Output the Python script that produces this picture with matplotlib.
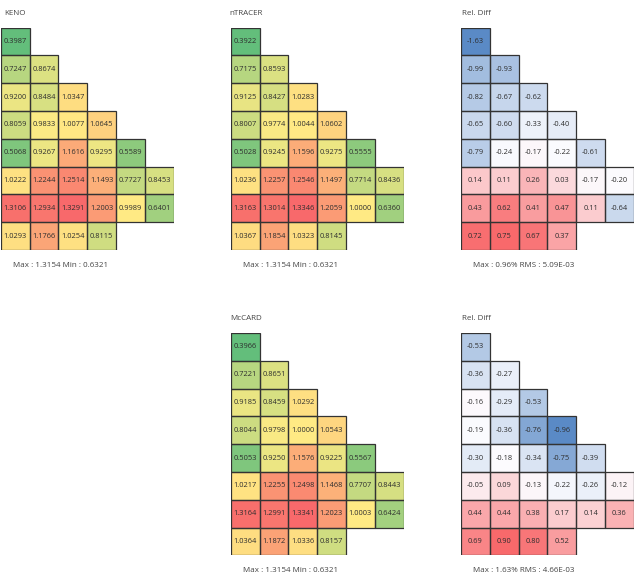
import numpy as np
import matplotlib.pyplot as plt
from matplotlib.colors import LinearSegmentedColormap, TwoSlopeNorm

plt.rcParams['font.family'] = ['Open Sans', 'DejaVu Sans']

# row-by-row values of the triangular core maps (rows of 1,2,3,4,5,6,6,4 cells)
keno = [[0.3987],
        [0.7247, 0.8674],
        [0.9200, 0.8484, 1.0347],
        [0.8059, 0.9833, 1.0077, 1.0645],
        [0.5068, 0.9267, 1.1616, 0.9295, 0.5589],
        [1.0222, 1.2244, 1.2514, 1.1493, 0.7727, 0.8453],
        [1.3106, 1.2934, 1.3291, 1.2003, 0.9989, 0.6401],
        [1.0293, 1.1766, 1.0254, 0.8115]]

ntracer = [[0.3922],
           [0.7175, 0.8593],
           [0.9125, 0.8427, 1.0283],
           [0.8007, 0.9774, 1.0044, 1.0602],
           [0.5028, 0.9245, 1.1596, 0.9275, 0.5555],
           [1.0236, 1.2257, 1.2546, 1.1497, 0.7714, 0.8436],
           [1.3163, 1.3014, 1.3346, 1.2059, 1.0000, 0.6360],
           [1.0367, 1.1854, 1.0323, 0.8145]]

reldiff_top = [[-1.63],
               [-0.99, -0.93],
               [-0.82, -0.67, -0.62],
               [-0.65, -0.60, -0.33, -0.40],
               [-0.79, -0.24, -0.17, -0.22, -0.61],
               [0.14, 0.11, 0.26, 0.03, -0.17, -0.20],
               [0.43, 0.62, 0.41, 0.47, 0.11, -0.64],
               [0.72, 0.75, 0.67, 0.37]]

mccard = [[0.3966],
          [0.7221, 0.8651],
          [0.9185, 0.8459, 1.0292],
          [0.8044, 0.9798, 1.0000, 1.0543],
          [0.5053, 0.9250, 1.1576, 0.9225, 0.5567],
          [1.0217, 1.2255, 1.2498, 1.1468, 0.7707, 0.8443],
          [1.3164, 1.2991, 1.3341, 1.2023, 1.0003, 0.6424],
          [1.0364, 1.1872, 1.0336, 0.8157]]

reldiff_bot = [[-0.53],
               [-0.36, -0.27],
               [-0.16, -0.29, -0.53],
               [-0.19, -0.36, -0.76, -0.96],
               [-0.30, -0.18, -0.34, -0.75, -0.39],
               [-0.05, 0.09, -0.13, -0.22, -0.26, -0.12],
               [0.44, 0.44, 0.38, 0.17, 0.14, 0.36],
               [0.69, 0.90, 0.80, 0.52]]

footer_power = 'Max : 1.3154 Min : 0.6321'
footer_top = 'Max : 0.96% RMS : 5.09E-03'
footer_bot = 'Max : 1.63% RMS : 4.66E-03'

# Excel-like 3 colour scales
gyr = LinearSegmentedColormap.from_list('gyr', ['#63BE7B', '#FFEB84', '#F8696B'])
bwr = LinearSegmentedColormap.from_list('bwr', ['#5A8AC6', '#FCFCFF', '#F8696B'])

W, H = 635.0, 585.0
CW, CH = 28.8, 27.8
TXT = '#2e2e2e'
EDGE = '#333333'

fig = plt.figure(figsize=(W / 100, H / 100), dpi=100)


def panel(rows, title, footer, left, top, title_x, cmap, fmt):
    vals = np.concatenate([np.array(r) for r in rows])
    norm = TwoSlopeNorm(vmin=vals.min(), vcenter=np.percentile(vals, 50), vmax=vals.max())
    ax = fig.add_axes([left / W, 1 - (top + 8 * CH) / H, 6 * CW / W, 8 * CH / H])
    # fills first, outlines after so no cell covers a neighbour's border
    for i, r in enumerate(rows):
        ax.bar(np.arange(len(r)), 1, bottom=i, width=1, align='edge',
               color=cmap(norm(np.array(r))), linewidth=0)
    for i, r in enumerate(rows):
        ax.bar(np.arange(len(r)), 1, bottom=i, width=1, align='edge',
               fill=False, edgecolor=EDGE, linewidth=0.9)
        for j, v in enumerate(r):
            ax.text(j + 0.5, i + 0.5, fmt % v, ha='center', va='center',
                    fontsize=5.4, color=TXT)
    ax.set_xlim(0, 6)
    ax.set_ylim(8, 0)
    ax.axis('off')
    fig.text(title_x / W, 1 - (top - 14) / H, title, ha='left', va='center',
             fontsize=5.8, color='#444444')
    fig.text((left + 12) / W, 1 - (top + 8 * CH + 15) / H, footer, ha='left',
             va='center', fontsize=5.8, color='#444444')


panel(keno, 'KENO', footer_power, 0.8, 27.7, 4, gyr, '%.4f')
panel(ntracer, 'nTRACER', footer_power, 230.7, 27.7, 229, gyr, '%.4f')
panel(reldiff_top, 'Rel. Diff', footer_top, 461, 27.7, 462, bwr, '%.2f')
panel(mccard, 'McCARD', footer_power, 230.7, 333, 230, gyr, '%.4f')
panel(reldiff_bot, 'Rel. Diff', footer_bot, 461, 333, 462, bwr, '%.2f')

fig.savefig('out.png', dpi=100)
